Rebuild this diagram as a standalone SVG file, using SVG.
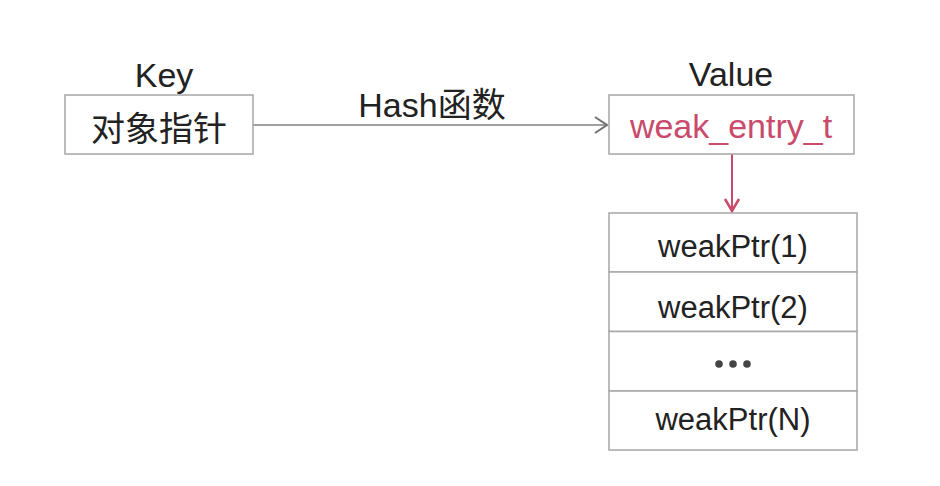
<svg xmlns="http://www.w3.org/2000/svg" width="940" height="486" viewBox="0 0 940 486">
<style>
.box{fill:#fff;stroke:#a6a6a6;stroke-width:1.5}
.t{font-family:"Liberation Sans","Noto Sans CJK SC",sans-serif;font-size:34px;fill:#222;text-anchor:middle}
.s{font-size:31px}
.pink{fill:#c94a6b}
</style>
<rect width="940" height="486" fill="#fff"/>
<g id="connectors">
<line x1="253" y1="125" x2="607" y2="125" stroke="#808080" stroke-width="1.5"/>
<polyline points="595,117 607,125 595,133" fill="none" stroke="#707070" stroke-width="2"/>
<text class="t" x="432" y="117">Hash函数</text>
<line x1="732" y1="154" x2="732" y2="211" stroke="#c94a6b" stroke-width="2"/>
<polyline points="725,199 732,211 739,199" fill="none" stroke="#c94a6b" stroke-width="2.5"/>
</g>
<g id="key">
<text class="t" x="164" y="87">Key</text>
<rect class="box" x="65" y="95" width="188" height="59"/>
<text class="t" x="159" y="141">对象指针</text>
</g>
<g id="value">
<text class="t" x="731" y="86">Value</text>
<rect class="box" x="609" y="95" width="245" height="59"/>
<text class="t pink" x="731" y="138">weak_entry_t</text>
</g>
<g id="list">
<rect class="box" x="609" y="213" width="248" height="59"/>
<text class="t s" x="733" y="257">weakPtr(1)</text>
<rect class="box" x="609" y="272" width="248" height="59.5"/>
<text class="t s" x="733" y="318">weakPtr(2)</text>
<rect class="box" x="609" y="331.5" width="248" height="59.5"/>
<g fill="#444"><circle cx="719" cy="364" r="3.8"/><circle cx="733" cy="364" r="3.8"/><circle cx="747" cy="364" r="3.8"/></g>
<rect class="box" x="609" y="391" width="248" height="59"/>
<text class="t s" x="733" y="430">weakPtr(N)</text>
</g>
</svg>
